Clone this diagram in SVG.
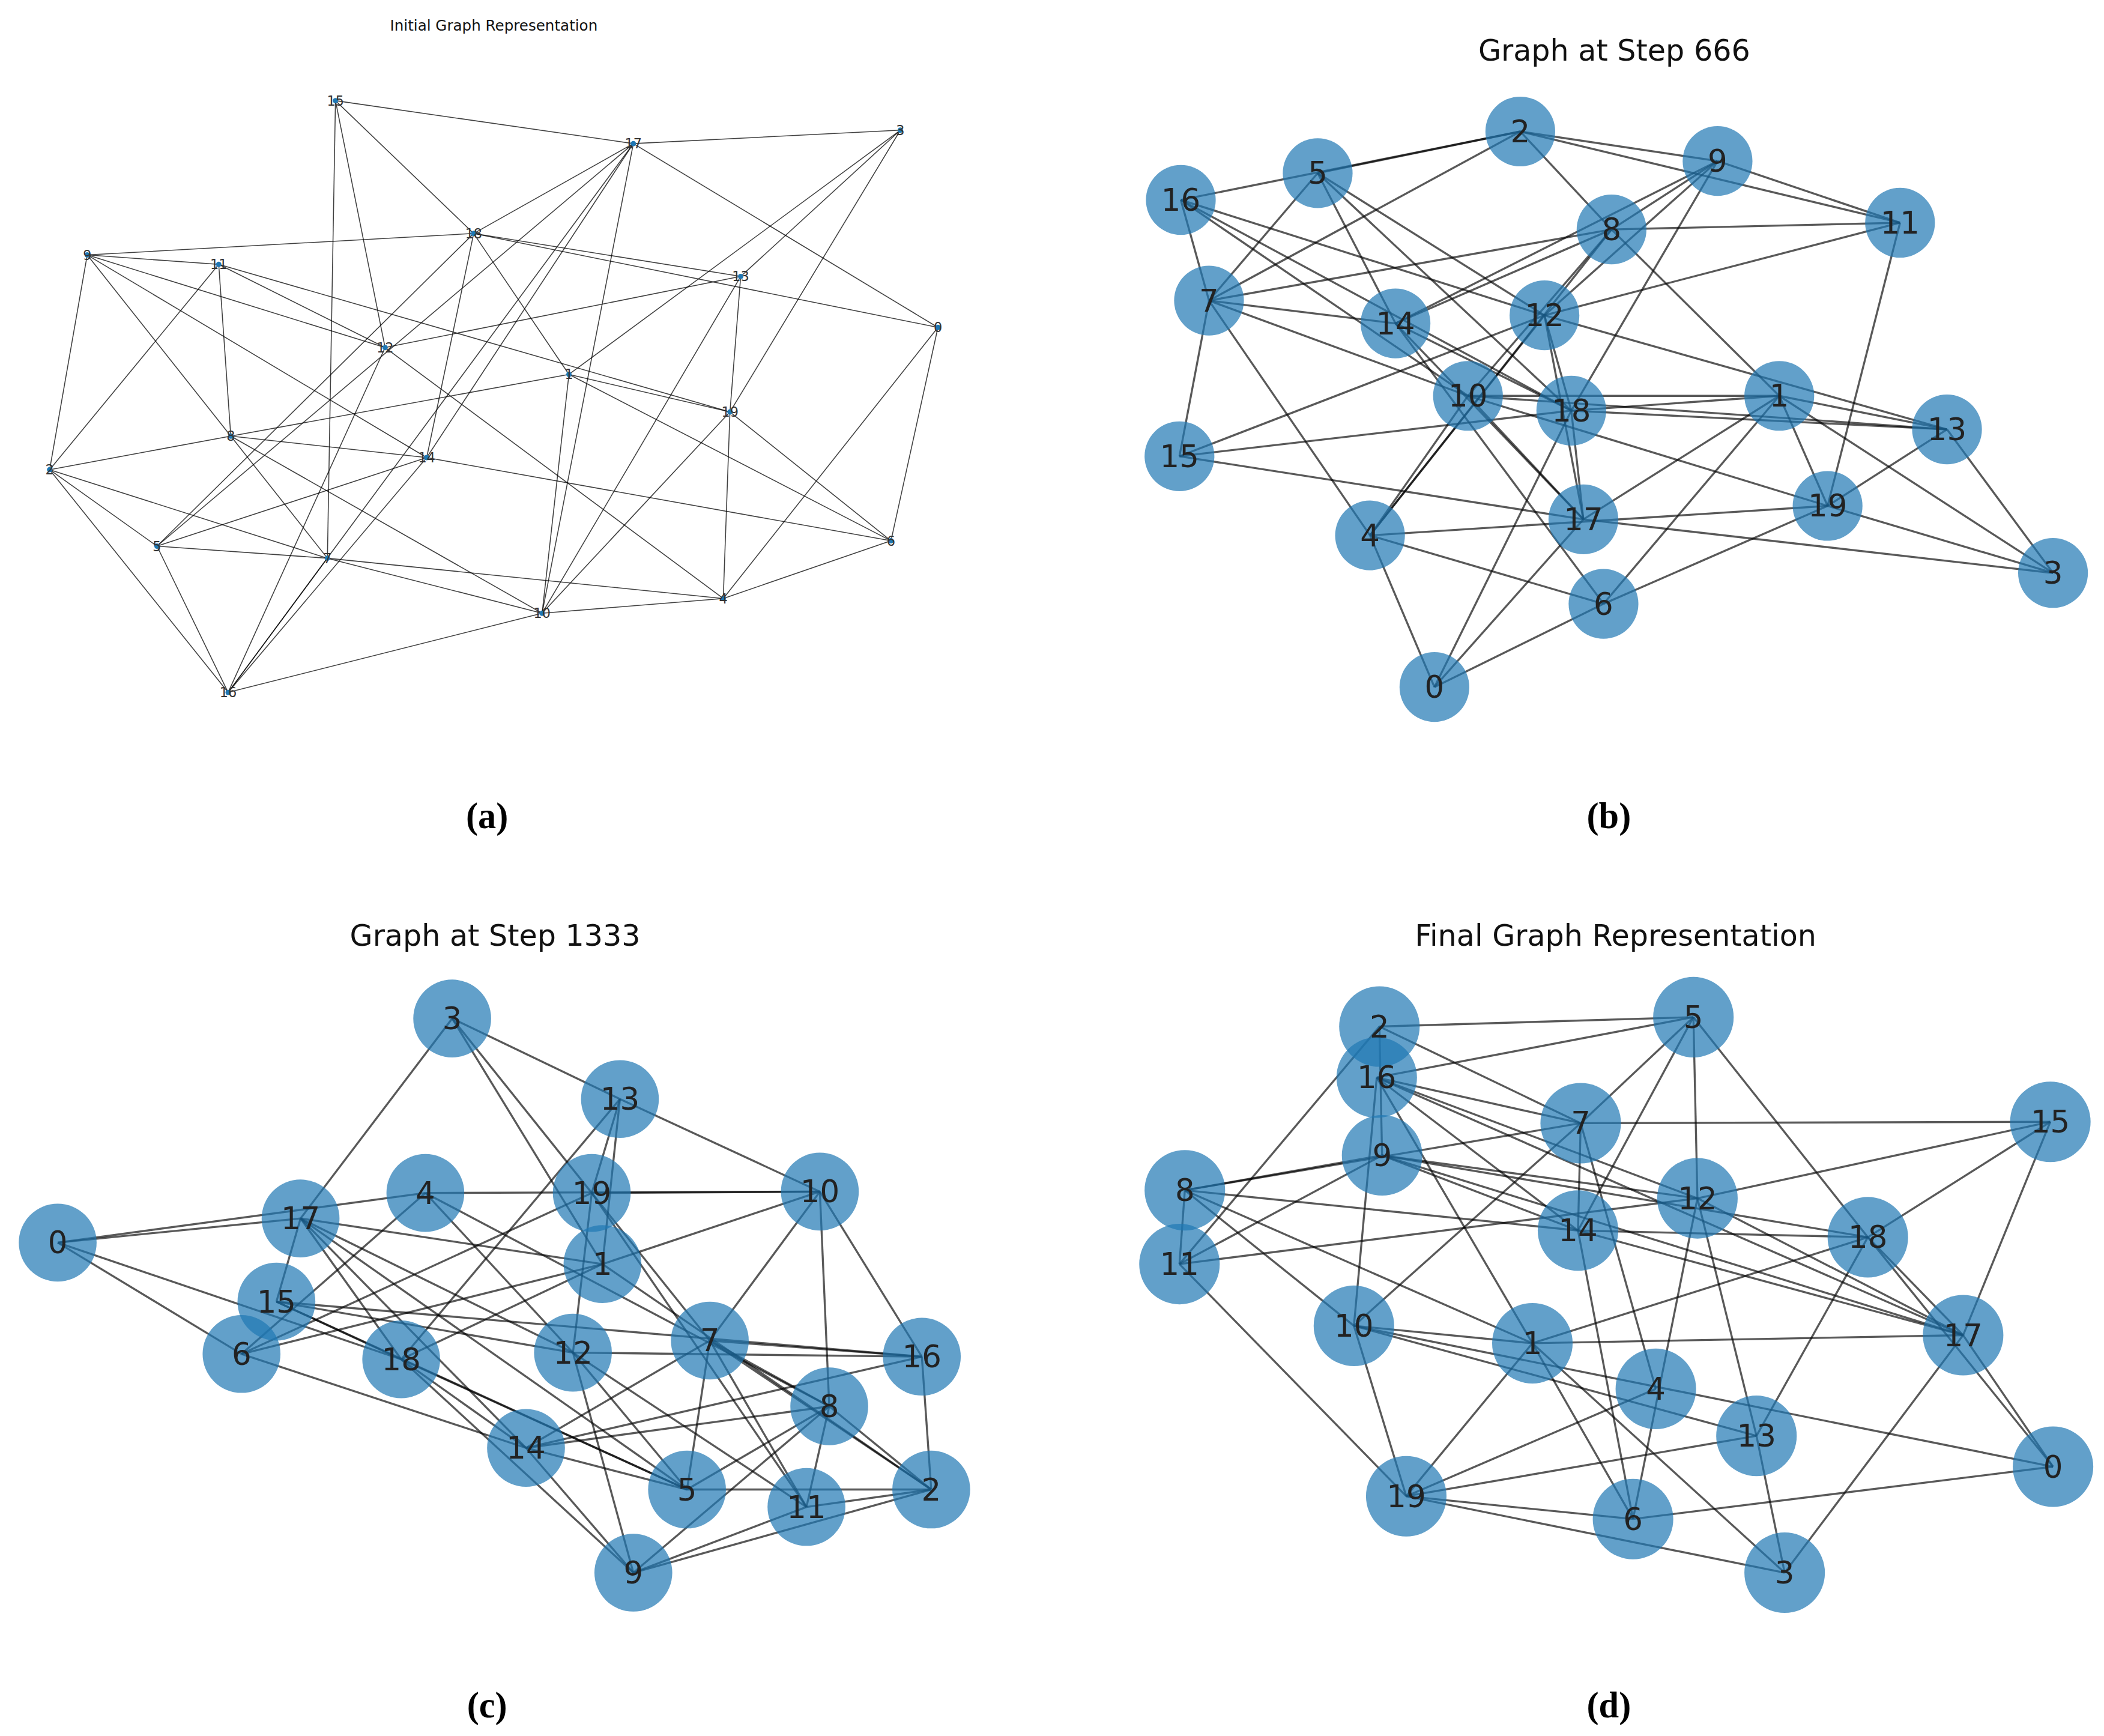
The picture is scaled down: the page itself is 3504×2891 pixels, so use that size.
<svg xmlns="http://www.w3.org/2000/svg" width="3504" height="2891" viewBox="0 0 3504 2891">
<style>
.ea line{stroke:#000;stroke-opacity:0.75;stroke-width:0.7}
.eb line{stroke:#000;stroke-opacity:0.65;stroke-width:1.5}
.na circle{fill:#1f77b4}
.na text{font-family:"DejaVu Sans",sans-serif;font-size:10px;fill:#333;text-anchor:middle;dominant-baseline:central}
.nb circle{fill:#1f77b4;fill-opacity:0.7}
.nb text{font-family:"DejaVu Sans",sans-serif;font-size:23px;fill:#222;text-anchor:middle;dominant-baseline:central}
.t{font-family:"DejaVu Sans",sans-serif;fill:#111;text-anchor:middle}
.cap{font-family:"Liberation Serif",serif;font-size:27px;font-weight:bold;fill:#000;text-anchor:middle}
</style>
<rect width="3504" height="2891" fill="#fff"/>
<g transform="scale(2.2347)">
<text class="t" x="368" y="23" font-size="11">Initial Graph Representation</text>
<text class="t" x="1203" y="45" font-size="22">Graph at Step 666</text>
<text class="t" x="369" y="705" font-size="22">Graph at Step 1333</text>
<text class="t" x="1204" y="705" font-size="22">Final Graph Representation</text>
<text class="cap" x="363" y="617">(a)</text>
<text class="cap" x="1199" y="617">(b)</text>
<text class="cap" x="363" y="1280">(c)</text>
<text class="cap" x="1199" y="1280">(d)</text>

<g id="connectors-a" class="ea">
<line x1="250" y1="75" x2="472" y2="107"/><line x1="250" y1="75" x2="353" y2="174"/><line x1="250" y1="75" x2="244" y2="416"/><line x1="250" y1="75" x2="287" y2="259"/>
<line x1="65" y1="190" x2="353" y2="174"/><line x1="65" y1="190" x2="163" y2="197"/><line x1="65" y1="190" x2="287" y2="259"/><line x1="65" y1="190" x2="318" y2="341"/><line x1="65" y1="190" x2="172" y2="325"/><line x1="65" y1="190" x2="37" y2="350"/>
<line x1="163" y1="197" x2="544" y2="307"/><line x1="163" y1="197" x2="287" y2="259"/><line x1="163" y1="197" x2="172" y2="325"/><line x1="163" y1="197" x2="37" y2="350"/>
<line x1="353" y1="174" x2="472" y2="107"/><line x1="353" y1="174" x2="552" y2="206"/><line x1="353" y1="174" x2="699" y2="244"/><line x1="353" y1="174" x2="424" y2="279"/><line x1="353" y1="174" x2="318" y2="341"/><line x1="353" y1="174" x2="117" y2="407"/>
<line x1="472" y1="107" x2="671" y2="97"/><line x1="472" y1="107" x2="699" y2="244"/><line x1="472" y1="107" x2="117" y2="407"/><line x1="472" y1="107" x2="170" y2="516"/><line x1="472" y1="107" x2="404" y2="457"/><line x1="472" y1="107" x2="318" y2="341"/>
<line x1="671" y1="97" x2="552" y2="206"/><line x1="671" y1="97" x2="424" y2="279"/><line x1="671" y1="97" x2="544" y2="307"/>
<line x1="552" y1="206" x2="287" y2="259"/><line x1="552" y1="206" x2="404" y2="457"/><line x1="552" y1="206" x2="544" y2="307"/>
<line x1="699" y1="244" x2="539" y2="446"/><line x1="699" y1="244" x2="664" y2="403"/>
<line x1="424" y1="279" x2="172" y2="325"/><line x1="424" y1="279" x2="544" y2="307"/><line x1="424" y1="279" x2="664" y2="403"/><line x1="424" y1="279" x2="404" y2="457"/>
<line x1="544" y1="307" x2="664" y2="403"/><line x1="544" y1="307" x2="539" y2="446"/><line x1="544" y1="307" x2="404" y2="457"/>
<line x1="664" y1="403" x2="539" y2="446"/><line x1="664" y1="403" x2="318" y2="341"/>
<line x1="539" y1="446" x2="404" y2="457"/><line x1="539" y1="446" x2="244" y2="416"/><line x1="539" y1="446" x2="287" y2="259"/>
<line x1="404" y1="457" x2="170" y2="516"/><line x1="404" y1="457" x2="244" y2="416"/><line x1="404" y1="457" x2="172" y2="325"/>
<line x1="172" y1="325" x2="37" y2="350"/><line x1="172" y1="325" x2="318" y2="341"/><line x1="172" y1="325" x2="244" y2="416"/>
<line x1="37" y1="350" x2="117" y2="407"/><line x1="37" y1="350" x2="244" y2="416"/><line x1="37" y1="350" x2="170" y2="516"/>
<line x1="117" y1="407" x2="318" y2="341"/><line x1="117" y1="407" x2="244" y2="416"/><line x1="117" y1="407" x2="170" y2="516"/>
<line x1="318" y1="341" x2="170" y2="516"/><line x1="244" y1="416" x2="170" y2="516"/><line x1="287" y1="259" x2="170" y2="516"/>
</g>
<g id="nodes-a" class="na">
<g id="a0"><circle cx="699" cy="244" r="2"/><text x="699" y="244">0</text></g>
<g id="a1"><circle cx="424" cy="279" r="2"/><text x="424" y="279">1</text></g>
<g id="a2"><circle cx="37" cy="350" r="2"/><text x="37" y="350">2</text></g>
<g id="a3"><circle cx="671" cy="97" r="2"/><text x="671" y="97">3</text></g>
<g id="a4"><circle cx="539" cy="446" r="2"/><text x="539" y="446">4</text></g>
<g id="a5"><circle cx="117" cy="407" r="2"/><text x="117" y="407">5</text></g>
<g id="a6"><circle cx="664" cy="403" r="2"/><text x="664" y="403">6</text></g>
<g id="a7"><circle cx="244" cy="416" r="2"/><text x="244" y="416">7</text></g>
<g id="a8"><circle cx="172" cy="325" r="2"/><text x="172" y="325">8</text></g>
<g id="a9"><circle cx="65" cy="190" r="2"/><text x="65" y="190">9</text></g>
<g id="a10"><circle cx="404" cy="457" r="2"/><text x="404" y="457">10</text></g>
<g id="a11"><circle cx="163" cy="197" r="2"/><text x="163" y="197">11</text></g>
<g id="a12"><circle cx="287" cy="259" r="2"/><text x="287" y="259">12</text></g>
<g id="a13"><circle cx="552" cy="206" r="2"/><text x="552" y="206">13</text></g>
<g id="a14"><circle cx="318" cy="341" r="2"/><text x="318" y="341">14</text></g>
<g id="a15"><circle cx="250" cy="75" r="2"/><text x="250" y="75">15</text></g>
<g id="a16"><circle cx="170" cy="516" r="2"/><text x="170" y="516">16</text></g>
<g id="a17"><circle cx="472" cy="107" r="2"/><text x="472" y="107">17</text></g>
<g id="a18"><circle cx="353" cy="174" r="2"/><text x="353" y="174">18</text></g>
<g id="a19"><circle cx="544" cy="307" r="2"/><text x="544" y="307">19</text></g>
</g>

<g id="connectors-b" class="eb">
<line x1="880" y1="149" x2="1133" y2="98"/><line x1="982" y1="129" x2="1133" y2="98"/><line x1="1133" y1="98" x2="1280" y2="120"/><line x1="1133" y1="98" x2="1416" y2="166"/><line x1="1133" y1="98" x2="1201" y2="171"/><line x1="1133" y1="98" x2="901" y2="224"/>
<line x1="1280" y1="120" x2="1416" y2="166"/><line x1="1280" y1="120" x2="1201" y2="171"/><line x1="1280" y1="120" x2="1040" y2="241"/><line x1="1280" y1="120" x2="1151" y2="235"/><line x1="1280" y1="120" x2="1171" y2="306"/>
<line x1="1201" y1="171" x2="1416" y2="166"/><line x1="1201" y1="171" x2="1040" y2="241"/><line x1="1201" y1="171" x2="901" y2="224"/><line x1="1201" y1="171" x2="1326" y2="295"/><line x1="1201" y1="171" x2="1094" y2="295"/><line x1="1201" y1="171" x2="1021" y2="399"/>
<line x1="1416" y1="166" x2="1151" y2="235"/><line x1="1416" y1="166" x2="1362" y2="377"/>
<line x1="982" y1="129" x2="901" y2="224"/><line x1="982" y1="129" x2="1040" y2="241"/><line x1="982" y1="129" x2="1151" y2="235"/><line x1="982" y1="129" x2="1171" y2="306"/>
<line x1="880" y1="149" x2="901" y2="224"/><line x1="880" y1="149" x2="1151" y2="235"/><line x1="880" y1="149" x2="1094" y2="295"/><line x1="880" y1="149" x2="1171" y2="306"/>
<line x1="901" y1="224" x2="1040" y2="241"/><line x1="901" y1="224" x2="1094" y2="295"/><line x1="901" y1="224" x2="879" y2="340"/><line x1="901" y1="224" x2="1021" y2="399"/>
<line x1="1040" y1="241" x2="1180" y2="387"/><line x1="1040" y1="241" x2="1195" y2="450"/><line x1="1040" y1="241" x2="1171" y2="306"/>
<line x1="1151" y1="235" x2="879" y2="340"/><line x1="1151" y1="235" x2="1451" y2="320"/><line x1="1151" y1="235" x2="1171" y2="306"/><line x1="1151" y1="235" x2="1021" y2="399"/><line x1="1151" y1="235" x2="1180" y2="387"/>
<line x1="1094" y1="295" x2="1326" y2="295"/><line x1="1094" y1="295" x2="1451" y2="320"/><line x1="1094" y1="295" x2="1362" y2="377"/><line x1="1094" y1="295" x2="1180" y2="387"/><line x1="1094" y1="295" x2="1021" y2="399"/>
<line x1="1171" y1="306" x2="1326" y2="295"/><line x1="1171" y1="306" x2="1451" y2="320"/><line x1="1171" y1="306" x2="879" y2="340"/><line x1="1171" y1="306" x2="1180" y2="387"/><line x1="1171" y1="306" x2="1069" y2="512"/>
<line x1="1326" y1="295" x2="1451" y2="320"/><line x1="1326" y1="295" x2="1362" y2="377"/><line x1="1326" y1="295" x2="1530" y2="427"/><line x1="1326" y1="295" x2="1180" y2="387"/><line x1="1326" y1="295" x2="1195" y2="450"/>
<line x1="1451" y1="320" x2="1362" y2="377"/><line x1="1451" y1="320" x2="1530" y2="427"/>
<line x1="1362" y1="377" x2="1530" y2="427"/><line x1="1362" y1="377" x2="1021" y2="399"/><line x1="1362" y1="377" x2="1195" y2="450"/>
<line x1="879" y1="340" x2="1180" y2="387"/><line x1="1180" y1="387" x2="1530" y2="427"/><line x1="1180" y1="387" x2="1069" y2="512"/>
<line x1="1021" y1="399" x2="1195" y2="450"/><line x1="1021" y1="399" x2="1069" y2="512"/><line x1="1195" y1="450" x2="1069" y2="512"/>
</g>
<g id="nodes-b" class="nb">
<g id="b0"><circle cx="1069" cy="512" r="26"/><text x="1069" y="512">0</text></g>
<g id="b1"><circle cx="1326" cy="295" r="26"/><text x="1326" y="295">1</text></g>
<g id="b2"><circle cx="1133" cy="98" r="26"/><text x="1133" y="98">2</text></g>
<g id="b3"><circle cx="1530" cy="427" r="26"/><text x="1530" y="427">3</text></g>
<g id="b4"><circle cx="1021" cy="399" r="26"/><text x="1021" y="399">4</text></g>
<g id="b5"><circle cx="982" cy="129" r="26"/><text x="982" y="129">5</text></g>
<g id="b6"><circle cx="1195" cy="450" r="26"/><text x="1195" y="450">6</text></g>
<g id="b7"><circle cx="901" cy="224" r="26"/><text x="901" y="224">7</text></g>
<g id="b8"><circle cx="1201" cy="171" r="26"/><text x="1201" y="171">8</text></g>
<g id="b9"><circle cx="1280" cy="120" r="26"/><text x="1280" y="120">9</text></g>
<g id="b10"><circle cx="1094" cy="295" r="26"/><text x="1094" y="295">10</text></g>
<g id="b11"><circle cx="1416" cy="166" r="26"/><text x="1416" y="166">11</text></g>
<g id="b12"><circle cx="1151" cy="235" r="26"/><text x="1151" y="235">12</text></g>
<g id="b13"><circle cx="1451" cy="320" r="26"/><text x="1451" y="320">13</text></g>
<g id="b14"><circle cx="1040" cy="241" r="26"/><text x="1040" y="241">14</text></g>
<g id="b15"><circle cx="879" cy="340" r="26"/><text x="879" y="340">15</text></g>
<g id="b16"><circle cx="880" cy="149" r="26"/><text x="880" y="149">16</text></g>
<g id="b17"><circle cx="1180" cy="387" r="26"/><text x="1180" y="387">17</text></g>
<g id="b18"><circle cx="1171" cy="306" r="26"/><text x="1171" y="306">18</text></g>
<g id="b19"><circle cx="1362" cy="377" r="26"/><text x="1362" y="377">19</text></g>
</g>

<g id="connectors-c" class="eb">
<line x1="337" y1="759" x2="224" y2="908"/><line x1="337" y1="759" x2="462" y2="819"/><line x1="337" y1="759" x2="441" y2="889"/><line x1="337" y1="759" x2="449" y2="942"/>
<line x1="462" y1="819" x2="611" y2="888"/><line x1="462" y1="819" x2="441" y2="889"/><line x1="462" y1="819" x2="449" y2="942"/><line x1="462" y1="819" x2="299" y2="1013"/>
<line x1="43" y1="926" x2="224" y2="908"/><line x1="43" y1="926" x2="317" y2="889"/><line x1="43" y1="926" x2="180" y2="1009"/><line x1="43" y1="926" x2="299" y2="1013"/>
<line x1="224" y1="908" x2="449" y2="942"/><line x1="224" y1="908" x2="427" y2="1008"/><line x1="224" y1="908" x2="206" y2="970"/><line x1="224" y1="908" x2="299" y2="1013"/><line x1="224" y1="908" x2="392" y2="1079"/><line x1="224" y1="908" x2="512" y2="1110"/>
<line x1="317" y1="889" x2="611" y2="888"/><line x1="317" y1="889" x2="180" y2="1009"/><line x1="317" y1="889" x2="427" y2="1008"/><line x1="317" y1="889" x2="618" y2="1048"/>
<line x1="441" y1="889" x2="611" y2="888"/><line x1="441" y1="889" x2="427" y2="1008"/><line x1="441" y1="889" x2="180" y2="1009"/><line x1="441" y1="889" x2="529" y2="999"/><line x1="441" y1="889" x2="601" y2="1123"/>
<line x1="449" y1="942" x2="180" y2="1009"/><line x1="449" y1="942" x2="299" y2="1013"/><line x1="449" y1="942" x2="611" y2="888"/><line x1="449" y1="942" x2="694" y2="1110"/>
<line x1="611" y1="888" x2="529" y2="999"/><line x1="611" y1="888" x2="618" y2="1048"/><line x1="611" y1="888" x2="687" y2="1011"/>
<line x1="206" y1="970" x2="687" y2="1011"/><line x1="206" y1="970" x2="427" y2="1008"/><line x1="206" y1="970" x2="299" y2="1013"/><line x1="206" y1="970" x2="512" y2="1110"/>
<line x1="180" y1="1009" x2="392" y2="1079"/><line x1="299" y1="1013" x2="392" y2="1079"/><line x1="299" y1="1013" x2="512" y2="1110"/><line x1="299" y1="1013" x2="472" y2="1172"/>
<line x1="427" y1="1008" x2="687" y2="1011"/><line x1="427" y1="1008" x2="512" y2="1110"/><line x1="427" y1="1008" x2="601" y2="1123"/><line x1="427" y1="1008" x2="472" y2="1172"/>
<line x1="529" y1="999" x2="687" y2="1011"/><line x1="529" y1="999" x2="618" y2="1048"/><line x1="529" y1="999" x2="694" y2="1110"/><line x1="529" y1="999" x2="512" y2="1110"/><line x1="529" y1="999" x2="392" y2="1079"/><line x1="529" y1="999" x2="601" y2="1123"/>
<line x1="618" y1="1048" x2="392" y2="1079"/><line x1="687" y1="1011" x2="392" y2="1079"/><line x1="618" y1="1048" x2="512" y2="1110"/><line x1="618" y1="1048" x2="472" y2="1172"/><line x1="618" y1="1048" x2="601" y2="1123"/><line x1="618" y1="1048" x2="694" y2="1110"/>
<line x1="687" y1="1011" x2="694" y2="1110"/><line x1="512" y1="1110" x2="694" y2="1110"/><line x1="392" y1="1079" x2="512" y2="1110"/><line x1="601" y1="1123" x2="694" y2="1110"/><line x1="472" y1="1172" x2="694" y2="1110"/><line x1="472" y1="1172" x2="601" y2="1123"/><line x1="392" y1="1079" x2="472" y2="1172"/>
</g>
<g id="nodes-c" class="nb">
<g id="c0"><circle cx="43" cy="926" r="29"/><text x="43" y="926">0</text></g>
<g id="c1"><circle cx="449" cy="942" r="29"/><text x="449" y="942">1</text></g>
<g id="c2"><circle cx="694" cy="1110" r="29"/><text x="694" y="1110">2</text></g>
<g id="c3"><circle cx="337" cy="759" r="29"/><text x="337" y="759">3</text></g>
<g id="c4"><circle cx="317" cy="889" r="29"/><text x="317" y="889">4</text></g>
<g id="c5"><circle cx="512" cy="1110" r="29"/><text x="512" y="1110">5</text></g>
<g id="c6"><circle cx="180" cy="1009" r="29"/><text x="180" y="1009">6</text></g>
<g id="c7"><circle cx="529" cy="999" r="29"/><text x="529" y="999">7</text></g>
<g id="c8"><circle cx="618" cy="1048" r="29"/><text x="618" y="1048">8</text></g>
<g id="c9"><circle cx="472" cy="1172" r="29"/><text x="472" y="1172">9</text></g>
<g id="c10"><circle cx="611" cy="888" r="29"/><text x="611" y="888">10</text></g>
<g id="c11"><circle cx="601" cy="1123" r="29"/><text x="601" y="1123">11</text></g>
<g id="c12"><circle cx="427" cy="1008" r="29"/><text x="427" y="1008">12</text></g>
<g id="c13"><circle cx="462" cy="819" r="29"/><text x="462" y="819">13</text></g>
<g id="c14"><circle cx="392" cy="1079" r="29"/><text x="392" y="1079">14</text></g>
<g id="c15"><circle cx="206" cy="970" r="29"/><text x="206" y="970">15</text></g>
<g id="c16"><circle cx="687" cy="1011" r="29"/><text x="687" y="1011">16</text></g>
<g id="c17"><circle cx="224" cy="908" r="29"/><text x="224" y="908">17</text></g>
<g id="c18"><circle cx="299" cy="1013" r="29"/><text x="299" y="1013">18</text></g>
<g id="c19"><circle cx="441" cy="889" r="29"/><text x="441" y="889">19</text></g>
</g>

<g id="connectors-d" class="eb">
<line x1="1028" y1="765" x2="1262" y2="758"/><line x1="1028" y1="765" x2="1178" y2="837"/><line x1="1028" y1="765" x2="879" y2="942"/><line x1="1028" y1="765" x2="1030" y2="861"/>
<line x1="1262" y1="758" x2="1026" y2="803"/><line x1="1262" y1="758" x2="1178" y2="837"/><line x1="1262" y1="758" x2="1176" y2="917"/><line x1="1262" y1="758" x2="1265" y2="893"/><line x1="1262" y1="758" x2="1392" y2="922"/>
<line x1="1026" y1="803" x2="1009" y2="988"/><line x1="1026" y1="803" x2="1142" y2="1001"/><line x1="1026" y1="803" x2="1178" y2="837"/><line x1="1026" y1="803" x2="1265" y2="893"/><line x1="1026" y1="803" x2="1176" y2="917"/><line x1="1026" y1="803" x2="1463" y2="995"/>
<line x1="1178" y1="837" x2="1528" y2="836"/><line x1="1178" y1="837" x2="883" y2="887"/><line x1="1178" y1="837" x2="1176" y2="917"/><line x1="1178" y1="837" x2="1234" y2="1035"/><line x1="1178" y1="837" x2="1009" y2="988"/>
<line x1="1030" y1="861" x2="883" y2="887"/><line x1="1030" y1="861" x2="879" y2="942"/><line x1="1030" y1="861" x2="1265" y2="893"/><line x1="1030" y1="861" x2="1176" y2="917"/><line x1="1030" y1="861" x2="1392" y2="922"/><line x1="1030" y1="861" x2="1463" y2="995"/>
<line x1="883" y1="887" x2="1176" y2="917"/><line x1="883" y1="887" x2="879" y2="942"/><line x1="883" y1="887" x2="1009" y2="988"/><line x1="883" y1="887" x2="1142" y2="1001"/>
<line x1="1265" y1="893" x2="1528" y2="836"/><line x1="1265" y1="893" x2="879" y2="942"/><line x1="1265" y1="893" x2="1217" y2="1132"/><line x1="1265" y1="893" x2="1309" y2="1070"/><line x1="1265" y1="893" x2="1463" y2="995"/>
<line x1="1176" y1="917" x2="1392" y2="922"/><line x1="1176" y1="917" x2="1463" y2="995"/><line x1="1176" y1="917" x2="1217" y2="1132"/>
<line x1="1392" y1="922" x2="1528" y2="836"/><line x1="1392" y1="922" x2="1142" y2="1001"/><line x1="1392" y1="922" x2="1309" y2="1070"/><line x1="1392" y1="922" x2="1530" y2="1093"/><line x1="1392" y1="922" x2="1463" y2="995"/>
<line x1="1528" y1="836" x2="1463" y2="995"/><line x1="879" y1="942" x2="1048" y2="1115"/>
<line x1="1009" y1="988" x2="1142" y2="1001"/><line x1="1009" y1="988" x2="1309" y2="1070"/><line x1="1009" y1="988" x2="1530" y2="1093"/><line x1="1009" y1="988" x2="1048" y2="1115"/>
<line x1="1142" y1="1001" x2="1463" y2="995"/><line x1="1142" y1="1001" x2="1048" y2="1115"/><line x1="1142" y1="1001" x2="1217" y2="1132"/><line x1="1142" y1="1001" x2="1330" y2="1172"/>
<line x1="1463" y1="995" x2="1530" y2="1093"/><line x1="1463" y1="995" x2="1330" y2="1172"/>
<line x1="1234" y1="1035" x2="1048" y2="1115"/><line x1="1309" y1="1070" x2="1048" y2="1115"/><line x1="1309" y1="1070" x2="1330" y2="1172"/><line x1="1530" y1="1093" x2="1217" y2="1132"/>
<line x1="1048" y1="1115" x2="1217" y2="1132"/><line x1="1048" y1="1115" x2="1330" y2="1172"/>
</g>
<g id="nodes-d" class="nb">
<g id="d0"><circle cx="1530" cy="1093" r="30"/><text x="1530" y="1093">0</text></g>
<g id="d1"><circle cx="1142" cy="1001" r="30"/><text x="1142" y="1001">1</text></g>
<g id="d2"><circle cx="1028" cy="765" r="30"/><text x="1028" y="765">2</text></g>
<g id="d3"><circle cx="1330" cy="1172" r="30"/><text x="1330" y="1172">3</text></g>
<g id="d4"><circle cx="1234" cy="1035" r="30"/><text x="1234" y="1035">4</text></g>
<g id="d5"><circle cx="1262" cy="758" r="30"/><text x="1262" y="758">5</text></g>
<g id="d6"><circle cx="1217" cy="1132" r="30"/><text x="1217" y="1132">6</text></g>
<g id="d7"><circle cx="1178" cy="837" r="30"/><text x="1178" y="837">7</text></g>
<g id="d8"><circle cx="883" cy="887" r="30"/><text x="883" y="887">8</text></g>
<g id="d9"><circle cx="1030" cy="861" r="30"/><text x="1030" y="861">9</text></g>
<g id="d10"><circle cx="1009" cy="988" r="30"/><text x="1009" y="988">10</text></g>
<g id="d11"><circle cx="879" cy="942" r="30"/><text x="879" y="942">11</text></g>
<g id="d12"><circle cx="1265" cy="893" r="30"/><text x="1265" y="893">12</text></g>
<g id="d13"><circle cx="1309" cy="1070" r="30"/><text x="1309" y="1070">13</text></g>
<g id="d14"><circle cx="1176" cy="917" r="30"/><text x="1176" y="917">14</text></g>
<g id="d15"><circle cx="1528" cy="836" r="30"/><text x="1528" y="836">15</text></g>
<g id="d16"><circle cx="1026" cy="803" r="30"/><text x="1026" y="803">16</text></g>
<g id="d17"><circle cx="1463" cy="995" r="30"/><text x="1463" y="995">17</text></g>
<g id="d18"><circle cx="1392" cy="922" r="30"/><text x="1392" y="922">18</text></g>
<g id="d19"><circle cx="1048" cy="1115" r="30"/><text x="1048" y="1115">19</text></g>
</g>
</g>
</svg>
